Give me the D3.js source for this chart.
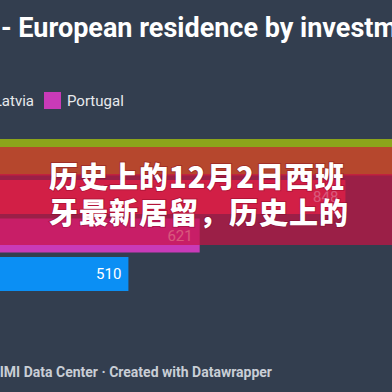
<!DOCTYPE html>
<html><head><meta charset="utf-8">
<script src="https://cdn.jsdelivr.net/npm/d3@7"></script>
<style>
html,body{margin:0;padding:0;background:#333e4f;}
svg{display:block;}
</style></head>
<body>
<svg id="c" width="392" height="392"></svg>
<script>
// ---- data ----
const countries = ["Greece", "Spain", "Latvia", "Portugal", "Malta"];
const values    = [1500, 1200, 848, 621, 510];
const barColors = ["#8ca41b", "#b6472d", "#ec3d4c", "#c93ab8", "#0b8ff4"];
const legendLabels = ["Latvia", "Portugal"];
const legendColors = ["#ec3d4c", "#c93ab8"];
const titleText = "- European residence by investment programs";
const sourceText = "Source: IMI Data Center · Created with Datawrapper";
const overlayLines = ["历史上的12月2日西班", "牙最新居留，历史上的"];

const svg = d3.select("#c");
const W = 392, H = 392;
svg.append("rect").attr("width", W).attr("height", H).attr("fill", "#333e4f");

// title
svg.append("text").attr("x", 1).attr("y", 37)
  .attr("font-family", "Roboto, sans-serif").attr("font-weight", 700)
  .attr("font-size", 27).attr("fill", "#ffffff").text(titleText);

// legend
const lg = svg.append("g");
lg.append("rect").attr("x", -22).attr("y", 93).attr("width", 16).attr("height", 16).attr("fill", legendColors[0]);
lg.append("text").attr("x", 34).attr("y", 106).attr("text-anchor", "end")
  .attr("font-family", "Roboto, sans-serif").attr("font-size", 15).attr("fill", "#e8eaed").text(legendLabels[0]);
lg.append("rect").attr("x", 44).attr("y", 92).attr("width", 17).attr("height", 17).attr("fill", legendColors[1]);
lg.append("text").attr("x", 67).attr("y", 106)
  .attr("font-family", "Roboto, sans-serif").attr("font-size", 15).attr("fill", "#e8eaed").text(legendLabels[1]);

// scales
const x = d3.scaleLinear().domain([0, 1000]).range([-199, 443]);
const rows = countries.slice(1);
const y = d3.scaleBand().domain(rows).range([141.5, 291]).paddingInner(0.117).paddingOuter(0);

// main bars
const bars = svg.append("g");
bars.selectAll("rect.bar").data(rows).enter().append("rect")
  .attr("class", "bar")
  .attr("x", x(0)).attr("y", d => y(d))
  .attr("width", d => x(values[countries.indexOf(d)]) - x(0))
  .attr("height", y.bandwidth())
  .attr("fill", d => barColors[countries.indexOf(d)]);
// green strip (first series)
bars.append("rect").attr("x", x(0)).attr("y", y(rows[0]) - 2.5)
  .attr("width", x(values[0]) - x(0)).attr("height", 8).attr("fill", barColors[0]);

// value labels
bars.selectAll("text.val").data(rows.filter(d => x(values[countries.indexOf(d)]) < W)).enter().append("text")
  .attr("class", "val")
  .attr("x", d => x(values[countries.indexOf(d)]) - 7)
  .attr("y", d => y(d) + y.bandwidth() / 2 + 5)
  .attr("text-anchor", "end")
  .attr("font-family", "Roboto, sans-serif").attr("font-size", 15)
  .attr("fill", "#ffffff").text(d => values[countries.indexOf(d)]);

// overlay banner
svg.append("rect").attr("x", 0).attr("y", 174).attr("width", W).attr("height", 71)
  .attr("fill", "rgb(200,18,68)").attr("fill-opacity", 0.7);
const ot = svg.append("g").attr("font-family", "'Noto Sans CJK SC', sans-serif")
  .attr("font-weight", 900).attr("font-size", 29).attr("fill", "#ffffff")
  .attr("letter-spacing", 1);
overlayLines.forEach((t, i) => {
  ot.append("text").attr("x", 49).attr("y", 188 + i * 36).text(t)
    .style("paint-order", "stroke").attr("stroke", "rgba(120,0,30,0.35)").attr("stroke-width", 2);
});

// footer
svg.append("text").attr("x", 272).attr("y", 377).attr("text-anchor", "end")
  .attr("font-family", "Roboto, sans-serif").attr("font-weight", 700)
  .attr("font-size", 14).attr("fill", "#c9ced6").text(sourceText);
</script>
</body></html>
